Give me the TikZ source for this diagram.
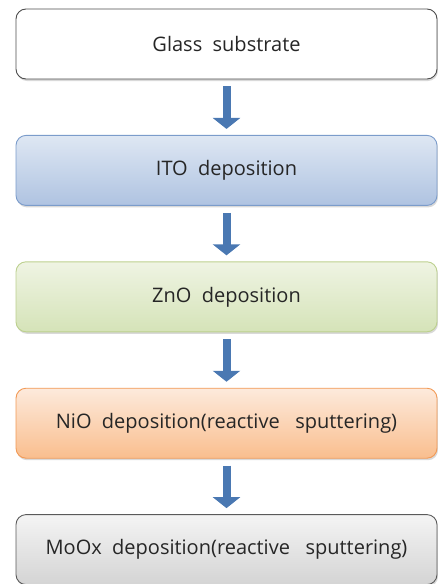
\documentclass[tikz,border=0pt]{standalone}
\usepackage{fontspec}
\setmainfont{Open Sans}
\usetikzlibrary{arrows.meta,shadows}

\definecolor{glassline}{HTML}{4D4D4D}
\definecolor{itotop}{HTML}{DEE7F3}
\definecolor{itobot}{HTML}{AFC3E1}
\definecolor{itoline}{HTML}{7B9CCB}
\definecolor{znotop}{HTML}{EFF4E3}
\definecolor{znobot}{HTML}{D5E3B8}
\definecolor{znoline}{HTML}{BCD08E}
\definecolor{niotop}{HTML}{FDEADC}
\definecolor{niobot}{HTML}{F9BE8E}
\definecolor{nioline}{HTML}{F29A56}
\definecolor{mootop}{HTML}{F4F4F4}
\definecolor{moobot}{HTML}{D4D4D4}
\definecolor{mooline}{HTML}{5A5A5A}
\definecolor{arrowblue}{HTML}{4A78B2}

\begin{document}
\begin{tikzpicture}[x=1pt,y=1pt,
  stepbox/.style={rounded corners=10pt, minimum width=421pt, minimum height=70pt,
    font=\fontsize{20}{24}\selectfont, text=black!85, line width=0.9pt,
    drop shadow={shadow xshift=1pt, shadow yshift=-2pt, opacity=0.3}},
  flow/.style={draw=arrowblue, line width=8pt, shorten <=7pt, shorten >=6pt,
    -{Triangle[width=27pt,length=11pt,fill=arrowblue]}}]
\useasboundingbox (0,0) rectangle (438,-584);
% process steps
\node[stepbox, draw=glassline, fill=white] (glass) at (226.5,-44) {Glass\ \ substrate};
\node[stepbox, draw=itoline, top color=itotop, bottom color=itobot] (ito) at (226.5,-170.4) {ITO\ \ deposition};
\node[stepbox, draw=znoline, top color=znotop, bottom color=znobot] (zno) at (226.5,-296.8) {ZnO\ \ deposition};
\node[stepbox, draw=nioline, top color=niotop, bottom color=niobot] (nio) at (226.5,-423.2) {NiO\ \ deposition(reactive\ \ \ sputtering)};
\node[stepbox, draw=mooline, top color=mootop, bottom color=moobot] (moox) at (226.5,-549.6) {MoOx\ \ deposition(reactive\ \ \ sputtering)};
% arrows
\draw[flow] (glass) -- (ito);
\draw[flow] (ito) -- (zno);
\draw[flow] (zno) -- (nio);
\draw[flow] (nio) -- (moox);
\end{tikzpicture}
\end{document}
